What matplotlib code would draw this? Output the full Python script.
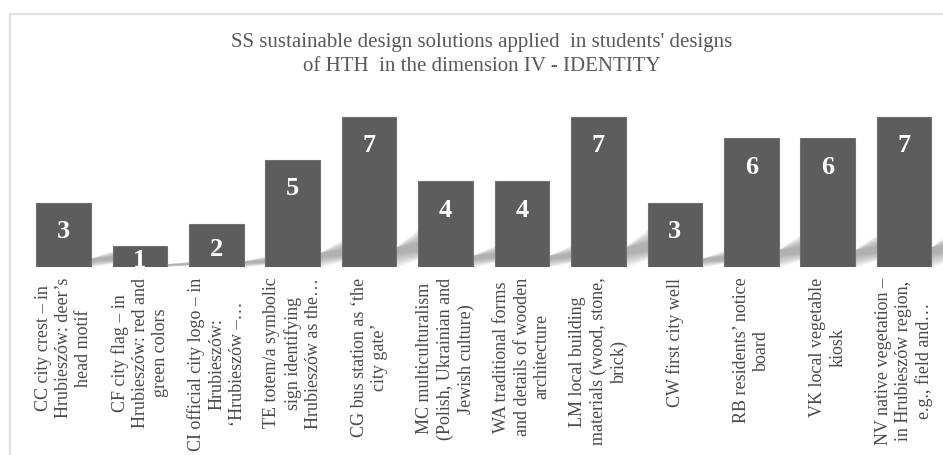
import numpy as np
import matplotlib.pyplot as plt
from matplotlib.patches import Polygon, Rectangle

# identity-dimension design solutions and how many designs used each
values = [3, 1, 2, 5, 7, 4, 4, 7, 3, 6, 6, 7]
labels = [
    "CC city crest – in\nHrubieszów: deer’s\nhead motif",
    "CF city flag – in\nHrubieszów: red and\ngreen colors",
    "CI official city logo – in\nHrubieszów:\n‘Hrubieszów –…",
    "TE totem/a symbolic\nsign identifying\nHrubieszów as the…",
    "CG bus station as ‘the\ncity gate’",
    "MC multiculturalism\n(Polish, Ukrainian and\nJewish culture)",
    "WA traditional forms\nand details of wooden\narchitecture",
    "LM local building\nmaterials (wood, stone,\nbrick)",
    "CW first city well",
    "RB residents’ notice\nboard",
    "VK local vegetable\nkiosk",
    "NV native vegetation –\nin Hrubieszów region,\ne.g., field and…",
]
title = ("SS sustainable design solutions applied  in students' designs\n"
         "of HTH  in the dimension IV - IDENTITY")

plt.rcParams['font.family'] = ['Liberation Serif', 'DejaVu Serif']

W, H = 943, 456
fig = plt.figure(figsize=(W / 100, H / 100), dpi=100)

# light chart frame (runs off the right and bottom edges)
fig.patches.append(Rectangle((10 / W, -0.2), 1.2, 1.2 - 15 / H, transform=fig.transFigure,
                             fill=False, edgecolor='#e2e2e2', linewidth=1.6))

ax = fig.add_axes([25.3 / W, 188 / H, 917 / W, 171.4 / H])
ax.set_xlim(-0.5, len(values) - 0.5)
ax.set_ylim(0, 8)
ax.axis('off')

x = np.arange(len(values))
width = 0.715
gap = 1 - width

# soft perspective shadows to the right of each bar
for xi, v in zip(x, values):
    xr = xi + width / 2
    pts = np.array([[xr, 0], [xr, 0.13 * v], [xr + gap + 0.15, 0.30 * v],
                    [xr + gap + 0.15, 0.08 * v]])
    c = pts.mean(axis=0)
    for s in np.linspace(1.05, 0.3, 10):
        p = c + (pts - c) * np.array([1.0, s])
        ax.add_patch(Polygon(p, closed=True, facecolor='#747474', edgecolor='none',
                             alpha=0.075, zorder=1, clip_on=False))

bars = ax.bar(x, values, width=width, color='#5d5d5d', edgecolor='#707070',
              linewidth=0.8, zorder=2)

for xi, v in zip(x, values):
    yb = max(v - 1.6, v / 2 - 0.44)
    ax.text(xi, yb, str(v), ha='center', va='baseline', color='white',
            fontsize=19, fontweight='bold', zorder=3)

for xi, lab in zip(x, labels):
    ax.text(xi, -0.45, lab, rotation=90, ha='center', va='top',
            multialignment='center', fontsize=13, color='#4a4a4a',
            linespacing=1.25)

fig.text(482 / W, 1 - 33 / H, title, ha='center', va='top', fontsize=15,
         color='#595959', linespacing=1.38)

fig.savefig('out.png', dpi=100)
